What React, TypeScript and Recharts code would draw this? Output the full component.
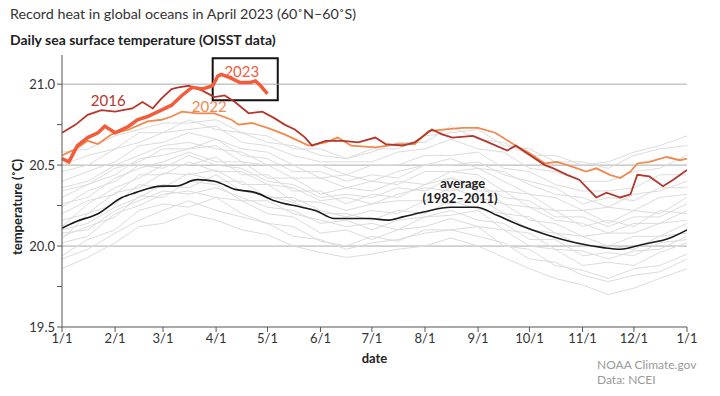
import { LineChart, Line, XAxis, YAxis, ReferenceLine, ReferenceArea, ReferenceDot } from "recharts";

const FONT = "Lato, 'Noto Sans', sans-serif";

const monthTicks = [0, 31, 59, 90, 120, 151, 181, 212, 243, 273, 304, 334, 365];
const monthLabels = ["1/1", "2/1", "3/1", "4/1", "5/1", "6/1", "7/1", "8/1", "9/1", "10/1", "11/1", "12/1", "1/1"];
const tempTicks = [19.5, 19.75, 20, 20.25, 20.5, 20.75, 21];
const gridTemps = [20, 20.5, 21];

// half-month grid used by the grey background years
const grayDays = [0, 15, 31, 45, 59, 74, 90, 105, 120, 135, 151, 166, 181, 196, 212, 227, 243, 258, 273, 288, 304, 319, 334, 349, 365];

const grayYears = [
    [19.86, 19.93, 20.02, 20.12, 20.14, 20.2, 20.16, 20.1, 20.07, 20.0, 19.96, 19.93, 19.95, 19.98, 20.0, 20.05, 20.0, 19.93, 19.86, 19.8, 19.76, 19.7, 19.74, 19.8, 19.86],
    [19.94, 20.04, 20.1, 20.22, 20.26, 20.24, 20.3, 20.2, 20.14, 20.12, 20.03, 20.0, 20.06, 20.03, 20.1, 20.1, 20.12, 20.0, 19.98, 19.88, 19.85, 19.8, 19.86, 19.88, 19.95],
    [20.02, 20.06, 20.2, 20.25, 20.32, 20.34, 20.3, 20.28, 20.2, 20.18, 20.08, 20.1, 20.04, 20.1, 20.12, 20.17, 20.12, 20.1, 20.0, 19.98, 19.88, 19.9, 19.88, 19.96, 20.02],
    [20.06, 20.12, 20.18, 20.31, 20.3, 20.4, 20.38, 20.28, 20.28, 20.2, 20.16, 20.12, 20.14, 20.1, 20.18, 20.19, 20.22, 20.1, 20.08, 19.98, 19.97, 19.92, 19.97, 19.98, 20.06],
    [20.1, 20.14, 20.24, 20.3, 20.38, 20.36, 20.44, 20.34, 20.31, 20.27, 20.2, 20.2, 20.16, 20.22, 20.2, 20.28, 20.23, 20.2, 20.1, 20.08, 20.0, 20.0, 19.98, 20.06, 20.08],
    [20.04, 20.2, 20.26, 20.38, 20.36, 20.45, 20.4, 20.4, 20.3, 20.3, 20.22, 20.18, 20.22, 20.2, 20.28, 20.26, 20.3, 20.2, 20.18, 20.08, 20.06, 20.0, 20.06, 20.06, 20.14],
    [20.16, 20.2, 20.33, 20.36, 20.45, 20.44, 20.47, 20.38, 20.38, 20.28, 20.27, 20.22, 20.26, 20.28, 20.28, 20.36, 20.3, 20.26, 20.16, 20.14, 20.06, 20.08, 20.08, 20.14, 20.16],
    [20.2, 20.28, 20.32, 20.44, 20.44, 20.52, 20.46, 20.46, 20.38, 20.36, 20.28, 20.3, 20.26, 20.32, 20.36, 20.34, 20.38, 20.26, 20.24, 20.16, 20.14, 20.08, 20.14, 20.14, 20.22],
    [20.12, 20.26, 20.36, 20.42, 20.5, 20.5, 20.55, 20.44, 20.44, 20.34, 20.34, 20.26, 20.32, 20.3, 20.38, 20.42, 20.34, 20.34, 20.24, 20.22, 20.12, 20.16, 20.12, 20.22, 20.2],
    [20.26, 20.3, 20.42, 20.48, 20.52, 20.58, 20.52, 20.52, 20.42, 20.42, 20.32, 20.36, 20.34, 20.4, 20.38, 20.46, 20.44, 20.34, 20.32, 20.22, 20.22, 20.14, 20.22, 20.2, 20.3],
    [20.3, 20.38, 20.44, 20.54, 20.56, 20.6, 20.62, 20.52, 20.5, 20.42, 20.42, 20.36, 20.4, 20.38, 20.46, 20.46, 20.48, 20.4, 20.32, 20.3, 20.22, 20.24, 20.22, 20.3, 20.32],
    [20.36, 20.4, 20.5, 20.56, 20.62, 20.64, 20.6, 20.58, 20.5, 20.5, 20.42, 20.44, 20.4, 20.46, 20.5, 20.54, 20.48, 20.46, 20.38, 20.32, 20.3, 20.24, 20.32, 20.34, 20.4],
    [20.4, 20.46, 20.52, 20.62, 20.64, 20.7, 20.66, 20.6, 20.58, 20.5, 20.5, 20.44, 20.5, 20.5, 20.56, 20.56, 20.58, 20.48, 20.46, 20.38, 20.34, 20.34, 20.36, 20.44, 20.44],
    [20.46, 20.5, 20.6, 20.64, 20.7, 20.72, 20.74, 20.64, 20.62, 20.56, 20.52, 20.52, 20.52, 20.58, 20.6, 20.66, 20.6, 20.58, 20.48, 20.46, 20.4, 20.4, 20.46, 20.48, 20.56],
    [20.5, 20.56, 20.6, 20.7, 20.7, 20.78, 20.72, 20.7, 20.64, 20.62, 20.56, 20.54, 20.6, 20.6, 20.68, 20.7, 20.72, 20.62, 20.6, 20.52, 20.52, 20.48, 20.56, 20.6, 20.62],
    [20.58, 20.6, 20.68, 20.72, 20.76, 20.76, 20.78, 20.7, 20.68, 20.6, 20.6, 20.54, 20.58, 20.64, 20.64, 20.74, 20.66, 20.64, 20.56, 20.56, 20.5, 20.52, 20.58, 20.62, 20.68],
    [19.92, 19.98, 20.08, 20.16, 20.22, 20.28, 20.22, 20.18, 20.14, 20.06, 20.04, 19.98, 20.02, 20.04, 20.08, 20.1, 20.06, 20.02, 19.92, 19.9, 19.82, 19.78, 19.82, 19.84, 19.92],
    [20.08, 20.1, 20.22, 20.28, 20.34, 20.32, 20.36, 20.3, 20.24, 20.22, 20.14, 20.16, 20.1, 20.16, 20.18, 20.22, 20.16, 20.14, 20.04, 20.04, 19.94, 19.96, 19.94, 20.02, 20.04],
    [20.24, 20.34, 20.4, 20.5, 20.48, 20.56, 20.5, 20.48, 20.4, 20.38, 20.3, 20.32, 20.3, 20.36, 20.34, 20.42, 20.38, 20.3, 20.28, 20.18, 20.18, 20.12, 20.18, 20.18, 20.26],
    [20.34, 20.38, 20.48, 20.52, 20.6, 20.6, 20.66, 20.56, 20.54, 20.46, 20.46, 20.4, 20.44, 20.42, 20.5, 20.5, 20.52, 20.44, 20.4, 20.36, 20.26, 20.3, 20.28, 20.36, 20.36],
];

const avgDays = [0, 8, 21, 35, 43, 58, 66, 79, 89, 101, 113, 124, 140, 148, 159, 171, 180, 190, 199, 211, 227, 242, 254, 267, 283, 300, 316, 326, 339, 355, 365];
const avgTemps = [20.11, 20.15, 20.2, 20.3, 20.33, 20.37, 20.37, 20.41, 20.4, 20.35, 20.33, 20.28, 20.24, 20.22, 20.17, 20.17, 20.17, 20.16, 20.18, 20.21, 20.24, 20.24, 20.19, 20.13, 20.07, 20.02, 19.99, 19.98, 20.01, 20.05, 20.1];

const days2016 = [0, 8, 15, 23, 31, 41, 47, 53, 58, 64, 68, 74, 82, 89, 95, 101, 109, 117, 124, 130, 136, 142, 146, 154, 164, 173, 183, 189, 199, 206, 216, 222, 228, 240, 249, 260, 265, 272, 282, 287, 295, 302, 312, 318, 326, 332, 336, 343, 351, 357, 365];
const temps2016 = [20.7, 20.75, 20.81, 20.84, 20.83, 20.85, 20.89, 20.85, 20.91, 20.97, 20.98, 20.99, 20.96, 20.92, 20.93, 20.89, 20.82, 20.83, 20.79, 20.75, 20.72, 20.67, 20.62, 20.65, 20.65, 20.64, 20.67, 20.63, 20.62, 20.64, 20.72, 20.69, 20.67, 20.68, 20.64, 20.59, 20.62, 20.57, 20.5, 20.48, 20.44, 20.41, 20.3, 20.33, 20.3, 20.32, 20.44, 20.43, 20.37, 20.41, 20.47];

const days2022 = [0, 8, 15, 21, 29, 39, 50, 58, 64, 70, 79, 89, 99, 103, 111, 120, 130, 140, 144, 154, 161, 169, 183, 196, 206, 214, 224, 234, 243, 253, 265, 272, 282, 289, 298, 306, 312, 320, 326, 332, 336, 343, 353, 361, 365];
const temps2022 = [20.56, 20.6, 20.65, 20.63, 20.69, 20.72, 20.77, 20.78, 20.8, 20.83, 20.82, 20.82, 20.78, 20.75, 20.76, 20.73, 20.69, 20.64, 20.62, 20.64, 20.67, 20.62, 20.61, 20.63, 20.63, 20.71, 20.72, 20.73, 20.73, 20.7, 20.62, 20.58, 20.51, 20.52, 20.49, 20.46, 20.48, 20.44, 20.42, 20.46, 20.51, 20.52, 20.55, 20.53, 20.54];

const days2023 = [0, 4, 9, 15, 21, 25, 31, 39, 44, 50, 58, 64, 70, 76, 82, 88, 91, 93, 98, 104, 110, 113, 116, 120];
const temps2023 = [20.54, 20.52, 20.62, 20.67, 20.7, 20.74, 20.7, 20.74, 20.78, 20.8, 20.84, 20.87, 20.93, 20.98, 20.97, 20.99, 21.05, 21.06, 21.04, 21.01, 21.01, 21.02, 20.99, 20.94];

const toPoints = (days: number[], temps: number[]) => days.map((d, i) => ({ d, t: temps[i] }));

const textLabel = (value: string, fill: string, size: number, weight: number | string = "normal") => ({
    value,
    position: "center" as const,
    fill,
    fontSize: size,
    fontWeight: weight,
    fontFamily: FONT,
});

export default function App() {
    return (
        <div style={{ position: "absolute", left: 0, top: 0, width: 720, height: 396, background: "#fff", fontFamily: FONT }}>
            <div style={{ position: "absolute", left: 10, top: 3, fontSize: 14.3, lineHeight: "22px", color: "#333" }}>
                Record heat in global oceans in April 2023 (60˚N–60˚S)
            </div>
            <div style={{ position: "absolute", left: 10, top: 31, fontSize: 14, lineHeight: "18px", fontWeight: 700, color: "#222" }}>
                Daily sea surface temperature (OISST data)
            </div>
            <div
                style={{
                    position: "absolute", left: 17, top: 207, fontSize: 13, fontWeight: 700, color: "#222",
                    transform: "translate(-50%, -50%) rotate(-90deg)", whiteSpace: "nowrap",
                }}
            >
                temperature (˚C)
            </div>
            <div style={{ position: "absolute", left: 597, top: 357, fontSize: 12, lineHeight: "15px", color: "#9a9a9a" }}>
                NOAA Climate.gov
                <br />
                Data: NCEI
            </div>
            <LineChart width={720} height={396} margin={{ top: 55, right: 33, bottom: 39, left: 0 }} style={{ position: "absolute", left: 0, top: 0 }}>
                <XAxis
                    type="number"
                    dataKey="d"
                    domain={[0, 365]}
                    ticks={monthTicks}
                    tickFormatter={(_v, i) => monthLabels[i]}
                    height={30}
                    tickSize={5}
                    stroke="#555"
                    tick={{ fill: "#333", fontSize: 13, fontFamily: FONT }}
                    label={{ value: "date", position: "insideBottom", offset: -6, fill: "#222", fontSize: 13, fontWeight: 700, fontFamily: FONT }}
                    allowDataOverflow
                />
                <YAxis
                    type="number"
                    domain={[19.5, 21.18]}
                    ticks={tempTicks}
                    tickFormatter={(v: number) => (Math.abs(v * 2 - Math.round(v * 2)) < 0.01 ? v.toFixed(1) : "")}
                    width={62}
                    tickSize={5}
                    stroke="#555"
                    tick={{ fill: "#333", fontSize: 13, fontFamily: FONT }}
                    allowDataOverflow
                />
                {gridTemps.map((g) => (
                    <ReferenceLine key={g} y={g} stroke="#aaa" strokeWidth={1} />
                ))}
                {grayYears.map((temps, i) => (
                    <Line
                        key={i}
                        data={toPoints(grayDays, temps)}
                        dataKey="t"
                        type="linear"
                        stroke="#dcdcdc"
                        strokeWidth={1}
                        dot={false}
                        activeDot={false}
                        isAnimationActive={false}
                    />
                ))}
                <Line data={toPoints(avgDays, avgTemps)} dataKey="t" type="monotone" stroke="#1a1a1a" strokeWidth={1.6} dot={false} activeDot={false} isAnimationActive={false} />
                <Line data={toPoints(days2022, temps2022)} dataKey="t" type="linear" stroke="#f08a4f" strokeWidth={1.8} dot={false} activeDot={false} isAnimationActive={false} />
                <Line data={toPoints(days2016, temps2016)} dataKey="t" type="linear" stroke="#b5372b" strokeWidth={1.8} dot={false} activeDot={false} isAnimationActive={false} />
                <Line data={toPoints(days2023, temps2023)} dataKey="t" type="linear" stroke="#f25c3a" strokeWidth={3.5} dot={false} activeDot={false} isAnimationActive={false} />
                <ReferenceArea x1={88} x2={126} y1={20.9} y2={21.16} fill="none" stroke="#111" strokeWidth={2} />
                <ReferenceDot x={27} y={20.9} r={0} fill="none" stroke="none" label={textLabel("2016", "#b5372b", 15)} />
                <ReferenceDot x={86} y={20.86} r={0} fill="none" stroke="none" label={textLabel("2022", "#f08a4f", 15)} />
                <ReferenceDot x={105} y={21.08} r={0} fill="none" stroke="none" label={textLabel("2023", "#f25c3a", 15)} />
                <ReferenceDot x={234} y={20.386} r={0} fill="none" stroke="none" label={textLabel("average", "#222", 13, 700)} />
                <ReferenceDot x={232.5} y={20.296} r={0} fill="none" stroke="none" label={textLabel("(1982–2011)", "#222", 13, 700)} />
            </LineChart>
        </div>
    );
}
